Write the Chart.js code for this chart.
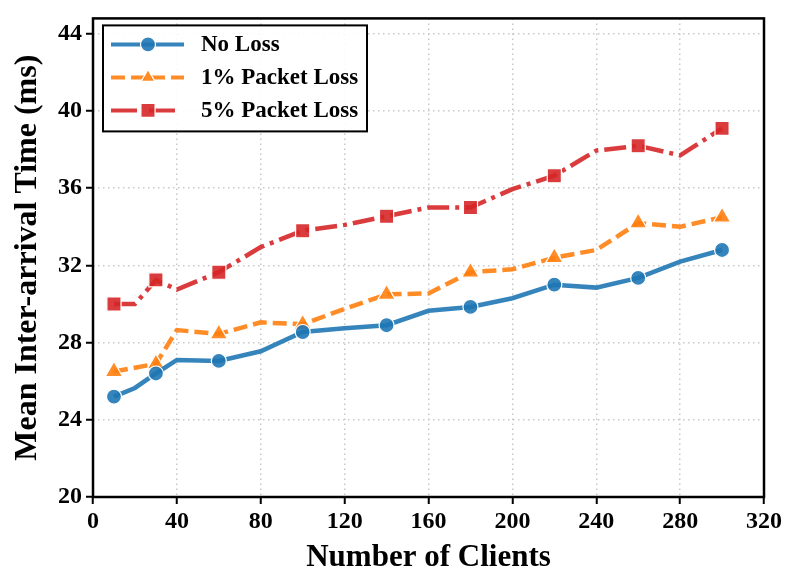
<!DOCTYPE html>
<html>
<head>
<meta charset="utf-8">
<script src="https://cdn.jsdelivr.net/npm/chart.js@4.4.0/dist/chart.umd.min.js"></script>
<style>
  html, body { margin: 0; padding: 0; background: #fff; }
  #wrap { width: 793px; height: 586px; }
</style>
</head>
<body>
<div id="wrap"><canvas id="chart" width="793" height="586"></canvas></div>
<script>
// Data
const clients = [10, 20, 30, 40, 60, 80, 100, 120, 140, 160, 180, 200, 220, 240, 260, 280, 300];
const noLoss = [25.2, 25.65, 26.4, 27.1, 27.05, 27.55, 28.55, 28.75, 28.9, 29.65, 29.85, 30.3, 31.0, 30.85, 31.35, 32.2, 32.8];
const loss1 = [26.5, 26.7, 26.9, 28.65, 28.45, 29.05, 28.95, 29.75, 30.5, 30.55, 31.65, 31.8, 32.4, 32.8, 34.2, 34.0, 34.5];
const loss5 = [30.0, 30.0, 31.25, 30.75, 31.65, 32.95, 33.8, 34.1, 34.55, 35.0, 35.0, 35.95, 36.65, 37.95, 38.2, 37.7, 39.1];
const xTicks = [0, 40, 80, 120, 160, 200, 240, 280, 320];
const yTicks = [20, 24, 28, 32, 36, 40, 44];
const seriesNames = ['No Loss', '1% Packet Loss', '5% Packet Loss'];

const BLUE = 'rgba(31,119,180,0.9)';
const ORANGE = 'rgba(255,127,14,0.9)';
const RED = 'rgba(214,39,40,0.9)';
const FONT = '"Liberation Serif", "Times New Roman", serif';

const styles = [
    { color: BLUE, dash: [], point: 'circle', radius: 7.5 },
    { color: ORANGE, dash: [14, 6], point: 'triangle', radius: 10 },
    { color: RED, dash: [22, 6, 4, 6], point: 'rect', radius: 10 },
];

function toXY(values) {
    return values.map((v, i) => ({ x: clients[i], y: v }));
}

function makeDataset(label, values, s) {
    return {
        label: label,
        data: toXY(values),
        borderColor: s.color,
        backgroundColor: s.color,
        borderWidth: 4.5,
        borderDash: s.dash,
        tension: 0,
        pointStyle: s.point,
        pointRadius: ctx => (ctx.dataIndex % 2 === 0 ? s.radius : 0),
        pointHoverRadius: ctx => (ctx.dataIndex % 2 === 0 ? s.radius : 0),
        pointBorderColor: '#fff',
        pointBorderWidth: 1.2,
        pointBackgroundColor: s.color,
    };
}

function drawMarker(ctx, style, x, y, r, color) {
    ctx.save();
    ctx.setLineDash([]);
    ctx.fillStyle = color;
    ctx.strokeStyle = '#fff';
    ctx.lineWidth = 1.2;
    ctx.beginPath();
    if (style === 'circle') {
        ctx.arc(x, y, r, 0, Math.PI * 2);
    } else if (style === 'triangle') {
        ctx.moveTo(x, y - r);
        ctx.lineTo(x + r * 0.87, y + r * 0.5);
        ctx.lineTo(x - r * 0.87, y + r * 0.5);
        ctx.closePath();
    } else {
        const h = r * Math.SQRT1_2;
        ctx.rect(x - h, y - h, h * 2, h * 2);
    }
    ctx.fill();
    ctx.stroke();
    ctx.restore();
}

// frame around the plot + legend box in upper left
const framePlugin = {
    id: 'frame',
    afterDraw(chart) {
        const ctx = chart.ctx;
        const a = chart.chartArea;
        ctx.save();
        ctx.strokeStyle = '#000';
        ctx.lineWidth = 2.5;
        ctx.strokeRect(a.left, a.top, a.right - a.left, a.bottom - a.top);

        // legend
        const lx = a.left + 10, ly = a.top + 7, lw = 264, lh = 106;
        ctx.fillStyle = 'rgba(255,255,255,0.9)';
        ctx.fillRect(lx, ly, lw, lh);
        ctx.lineWidth = 2;
        ctx.strokeRect(lx, ly, lw, lh);
        ctx.font = 'bold 23px ' + FONT;
        ctx.textBaseline = 'middle';
        seriesNames.forEach((name, i) => {
            const s = styles[i];
            const y = ly + 19 + i * 33;
            ctx.strokeStyle = s.color;
            ctx.lineWidth = 4;
            ctx.setLineDash(i === 2 ? [26, 12] : s.dash);
            ctx.beginPath();
            ctx.moveTo(lx + 8, y);
            ctx.lineTo(lx + 81, y);
            ctx.stroke();
            drawMarker(ctx, s.point, lx + 45, y, i === 1 ? 8 : s.radius, s.color);
            ctx.setLineDash([]);
            ctx.fillStyle = '#000';
            ctx.fillText(name, lx + 98, y + 1);
        });
        ctx.restore();
    }
};

const gridOpts = {
    color: '#c8c8c8',
    lineWidth: 1.5,
    tickColor: '#000',
    tickLength: 7,
    tickWidth: 2,
    tickBorderDash: []
};

new Chart(document.getElementById('chart'), {
    type: 'line',
    data: {
        datasets: [
            makeDataset(seriesNames[0], noLoss, styles[0]),
            makeDataset(seriesNames[1], loss1, styles[1]),
            makeDataset(seriesNames[2], loss5, styles[2]),
        ]
    },
    options: {
        responsive: false,
        animation: false,
        layout: { padding: { top: 14, right: 29, left: 0, bottom: 0 } },
        plugins: {
            legend: { display: false },
            tooltip: { enabled: false }
        },
        scales: {
            x: {
                type: 'linear',
                min: 0,
                max: 320,
                afterBuildTicks: axis => { axis.ticks = xTicks.map(v => ({ value: v })); },
                afterFit: axis => { axis.height = 89; },
                grid: gridOpts,
                border: { display: false, dash: [1.5, 3.5] },
                ticks: {
                    color: '#000',
                    padding: 3,
                    maxRotation: 0,
                    font: { family: FONT, size: 24, weight: 'bold' }
                },
                title: {
                    display: true,
                    text: 'Number of Clients',
                    color: '#000',
                    padding: { top: 0, bottom: 9 },
                    font: { family: FONT, size: 31, weight: 'bold' }
                }
            },
            y: {
                type: 'linear',
                min: 20,
                max: 44.8,
                afterBuildTicks: axis => { axis.ticks = yTicks.map(v => ({ value: v })); },
                afterFit: axis => { axis.width = 93; },
                grid: gridOpts,
                border: { display: false, dash: [1.5, 3.5] },
                ticks: {
                    color: '#000',
                    padding: 4,
                    font: { family: FONT, size: 24, weight: 'bold' }
                },
                title: {
                    display: true,
                    text: 'Mean Inter-arrival Time (ms)',
                    color: '#000',
                    padding: { top: 9, bottom: 0 },
                    font: { family: FONT, size: 32, weight: 'bold' }
                }
            }
        }
    },
    plugins: [framePlugin]
});
</script>
</body>
</html>
